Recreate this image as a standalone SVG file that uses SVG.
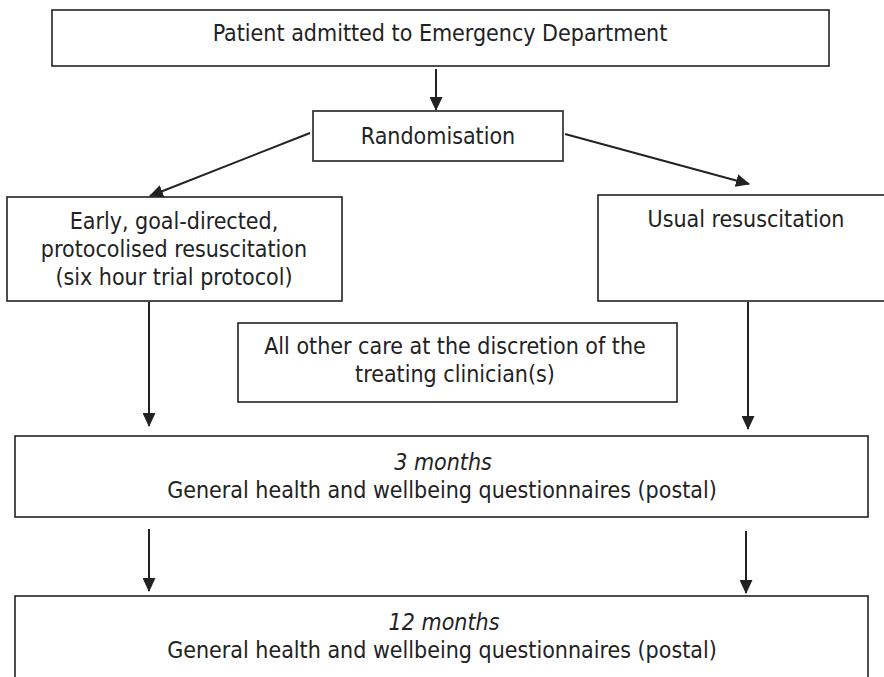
<svg xmlns="http://www.w3.org/2000/svg" width="884" height="677" viewBox="0 0 884 677">
<defs>
<style>
.box{fill:#fff;stroke:#222;stroke-width:1.6}
.t{font-family:"DejaVu Sans Condensed","DejaVu Sans",sans-serif;font-stretch:condensed;font-size:23px;fill:#222;text-anchor:middle}
.i{font-style:italic}
.c{stroke:#222;stroke-width:2;fill:none}
</style>
<marker id="ah" markerWidth="14" markerHeight="13" viewBox="0 0 14 13" refX="13" refY="6.5" orient="auto" markerUnits="userSpaceOnUse">
<path d="M0,0 L14,6.5 L0,13 Z" fill="#222"/>
</marker>
</defs>
<rect width="884" height="677" fill="#fff"/>
<g id="connectors">
<line class="c" x1="436" y1="69" x2="436" y2="110" marker-end="url(#ah)"/>
<line class="c" x1="310" y1="133" x2="150" y2="196" marker-end="url(#ah)"/>
<line class="c" x1="565" y1="134" x2="749" y2="184" marker-end="url(#ah)"/>
<line class="c" x1="149" y1="302" x2="149" y2="426" marker-end="url(#ah)"/>
<line class="c" x1="748" y1="302" x2="748" y2="429" marker-end="url(#ah)"/>
<line class="c" x1="149" y1="529" x2="149" y2="591" marker-end="url(#ah)"/>
<line class="c" x1="746" y1="531" x2="746" y2="593" marker-end="url(#ah)"/>
</g>
<g id="admitted">
<rect class="box" x="52" y="10" width="777" height="56"/>
<text class="t" x="440" y="41">Patient admitted to Emergency Department</text>
</g>
<g id="randomisation">
<rect class="box" x="313" y="111" width="250" height="50"/>
<text class="t" x="438" y="144">Randomisation</text>
</g>
<g id="early">
<rect class="box" x="7" y="197" width="335" height="104"/>
<text class="t" x="174" y="229">Early, goal-directed,</text>
<text class="t" x="174" y="257">protocolised resuscitation</text>
<text class="t" x="174" y="285">(six hour trial protocol)</text>
</g>
<g id="usual">
<rect class="box" x="598" y="195" width="300" height="106"/>
<text class="t" x="746" y="227">Usual resuscitation</text>
</g>
<g id="othercare">
<rect class="box" x="238" y="323" width="439" height="79"/>
<text class="t" x="455" y="354">All other care at the discretion of the</text>
<text class="t" x="455" y="382">treating clinician(s)</text>
</g>
<g id="three-months">
<rect class="box" x="15" y="436" width="853" height="81"/>
<text class="t i" x="443" y="470">3 months</text>
<text class="t" x="442" y="498">General health and wellbeing questionnaires (postal)</text>
</g>
<g id="twelve-months">
<rect class="box" x="15" y="596" width="853" height="100"/>
<text class="t i" x="444" y="630">12 months</text>
<text class="t" x="442" y="658">General health and wellbeing questionnaires (postal)</text>
</g>
</svg>
